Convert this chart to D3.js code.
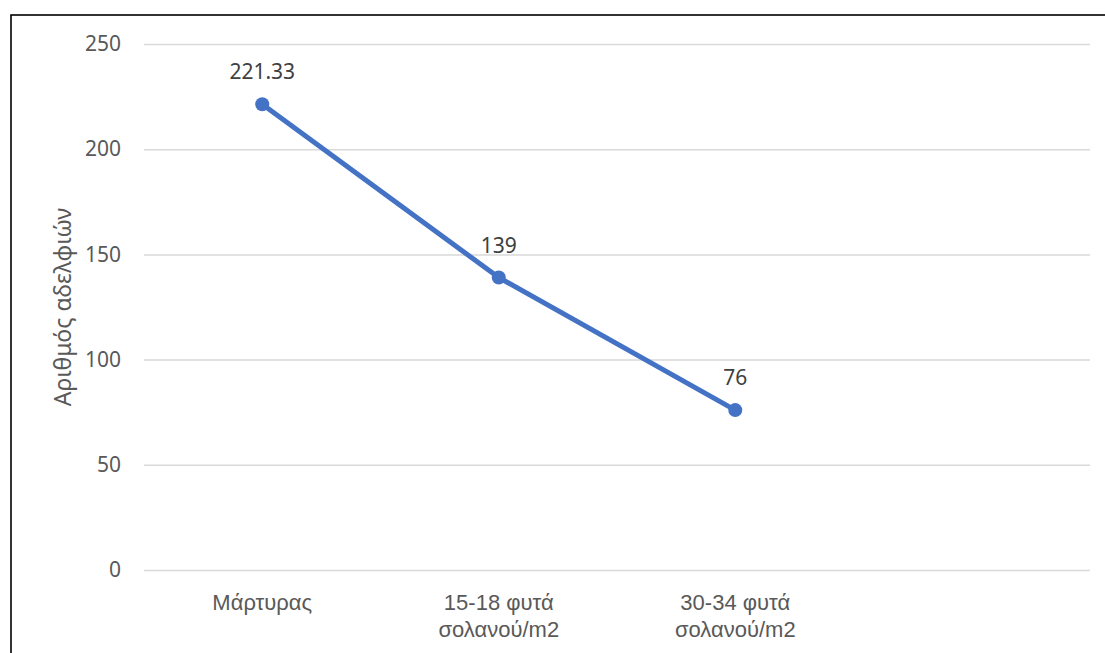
<!DOCTYPE html>
<html>
<head>
<meta charset="utf-8">
<script src="https://cdn.jsdelivr.net/npm/d3@7"></script>
<style>
  html, body { margin: 0; padding: 0; background: #fff; }
  svg { display: block; font-family: "Noto Sans", "Open Sans", sans-serif; }
</style>
</head>
<body>
<svg id="chart" width="1105" height="653"></svg>
<script>
// Treatments (the last slot is an empty category, leaving room on the right)
const categories = [
  ["Μάρτυρας"],
  ["15-18 φυτά", "σολανού/m2"],
  ["30-34 φυτά", "σολανού/m2"],
  [""]
];
const values = [221.33, 139, 76];
const valueLabels = ["221.33", "139", "76"];
const yTicks = [0, 50, 100, 150, 200, 250];
const yTitle = "Αριθμός αδελφιών";

const svg = d3.select("#chart");
const margin = { left: 144, right: 15, top: 44, bottom: 83 };
const W = 1105, H = 653;

const x = d3.scaleBand()
  .domain(categories.map((d, i) => i))
  .range([margin.left, W - margin.right])
  .padding(0);
const y = d3.scaleLinear().domain([0, 250]).range([H - margin.bottom, margin.top]);

// outer frame
svg.append("rect")
  .attr("x", 11).attr("y", 15)
  .attr("width", 1200).attr("height", 800)
  .attr("fill", "none").attr("stroke", "#000").attr("stroke-width", 1.6);

// horizontal gridlines and value axis
const yAxis = d3.axisLeft(y).tickValues(yTicks)
  .tickSize(-(W - margin.right - margin.left)).tickPadding(23);
const gy = svg.append("g").attr("transform", `translate(${margin.left},0)`).call(yAxis);
gy.select(".domain").remove();
gy.selectAll(".tick line").attr("stroke", "#d9d9d9").attr("stroke-width", 1.5);
gy.selectAll(".tick text").attr("fill", "#595959").attr("font-size", 21)
  .attr("font-family", "'Noto Sans', 'Open Sans', sans-serif");

// category axis labels
const xAxis = d3.axisBottom(x).tickSize(0).tickFormat("");
const gx = svg.append("g").attr("transform", `translate(0,${y(0)})`).call(xAxis);
gx.select(".domain").remove();
gx.selectAll(".tick").each(function (d) {
  const t = d3.select(this).append("text")
    .attr("fill", "#595959").attr("font-size", 22)
    .attr("text-anchor", "middle");
  categories[d].forEach((line, k) => {
    t.append("tspan").attr("x", 0).attr("y", 40 + k * 27).text(line);
  });
});

// axis title
svg.append("text")
  .attr("transform", `translate(71,${(y(0) + y(250)) / 2}) rotate(-90)`)
  .attr("text-anchor", "middle")
  .attr("fill", "#595959").attr("font-size", 23)
  .text(yTitle);

const cx = i => x(i) + x.bandwidth() / 2;

// series line
const line = d3.line().x((d, i) => cx(i)).y(d => y(d));
svg.append("path").datum(values)
  .attr("d", line)
  .attr("fill", "none").attr("stroke", "#4472c4")
  .attr("stroke-width", 5).attr("stroke-linecap", "round").attr("stroke-linejoin", "round");

// markers
svg.selectAll("circle.pt").data(values).enter().append("circle")
  .attr("class", "pt")
  .attr("cx", (d, i) => cx(i)).attr("cy", d => y(d))
  .attr("r", 7).attr("fill", "#4472c4");

// data labels
svg.selectAll("text.lbl").data(values).enter().append("text")
  .attr("class", "lbl")
  .attr("x", (d, i) => cx(i)).attr("y", d => y(d) - 25)
  .attr("text-anchor", "middle")
  .attr("fill", "#404040").attr("font-size", 21)
  .text((d, i) => valueLabels[i]);
</script>
</body>
</html>
